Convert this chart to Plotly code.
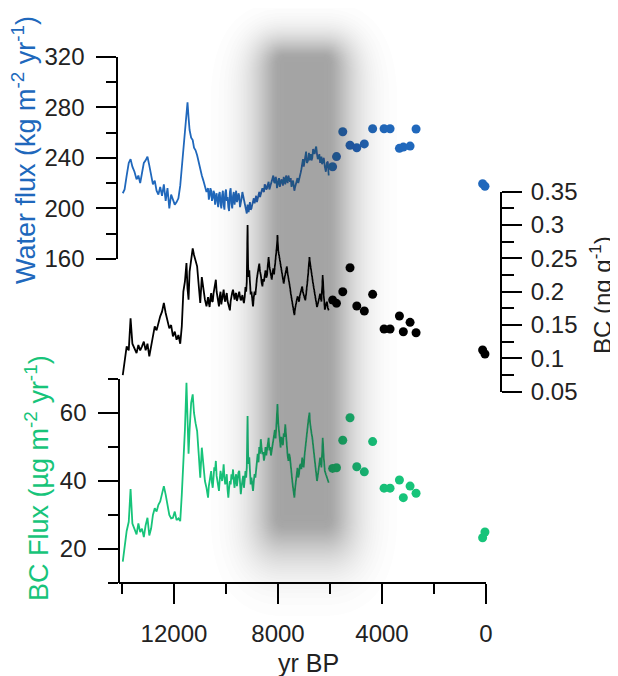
import math
import plotly.graph_objects as go

# ---------------- data ----------------
core_age = [
    13970, 13900, 13820, 13740, 13670, 13600, 13520, 13440, 13370, 13300,
    13230, 13160, 13090, 13020, 12950, 12880, 12810, 12740, 12670, 12600,
    12530, 12460, 12390, 12320, 12250, 12180, 12110, 12040, 11970, 11900,
    11830, 11760, 11700, 11640, 11580, 11520, 11480, 11440, 11400, 11340,
    11280, 11230, 11170, 11110, 11050, 10990, 10930, 10870, 10810, 10750,
    10690, 10660, 10630, 10600, 10570, 10540, 10510, 10480, 10450, 10420,
    10390, 10360, 10330, 10300, 10270, 10240, 10210, 10180, 10150, 10120,
    10090, 10060, 10030, 10000, 9970, 9940, 9910, 9880, 9850, 9820,
    9790, 9760, 9730, 9700, 9670, 9640, 9610, 9580, 9550, 9520,
    9490, 9460, 9430, 9400, 9370, 9340, 9310, 9280, 9250, 9225,
    9200, 9185, 9170, 9150, 9130, 9105, 9080, 9050, 9020, 8990,
    8960, 8930, 8900, 8870, 8840, 8810, 8780, 8750, 8720, 8690,
    8660, 8630, 8600, 8570, 8540, 8510, 8480, 8450, 8420, 8390,
    8360, 8330, 8300, 8270, 8240, 8210, 8180, 8150, 8120, 8090,
    8060, 8040, 8020, 7990, 7960, 7930, 7900, 7870, 7840, 7810,
    7780, 7750, 7720, 7690, 7660, 7630, 7600, 7570, 7540, 7510,
    7480, 7450, 7420, 7395, 7370, 7340, 7310, 7280, 7250, 7220,
    7190, 7160, 7130, 7100, 7070, 7040, 7010, 6980, 6950, 6920,
    6890, 6860, 6830, 6810, 6790, 6765, 6740, 6710, 6680, 6650,
    6620, 6590, 6560, 6530, 6500, 6470, 6440, 6410, 6380, 6355,
    6330, 6305, 6280, 6240, 6200, 6160, 6120, 6085, 6050,
]

water_flux = [
    212, 215, 226, 236, 239, 233, 229, 223, 226, 220,
    228, 236, 238, 241, 234, 226, 219, 222, 214, 211,
    217, 210, 219, 206, 216, 200, 211, 207, 203, 205,
    208, 218, 233, 248, 262, 274, 284, 272, 262, 256,
    254, 248, 246, 242, 236, 230, 226, 222, 218, 213,
    216, 207, 210, 216, 214, 206, 208, 214, 212, 203,
    209, 212, 205, 201, 211, 213, 204, 200, 210, 214,
    203, 199, 212, 215, 206, 209, 201, 198, 213, 216,
    204, 200, 210, 213, 203, 207, 214, 205, 207, 212,
    210, 201, 204, 208, 213, 210, 206, 203, 200, 197,
    196, 199, 203, 201, 197, 202, 205, 199, 200, 203,
    206, 208, 204, 207, 210, 205, 208, 212, 213, 209,
    211, 215, 216, 214, 213, 219, 218, 215, 216, 219,
    221, 215, 217, 220, 223, 224, 226, 221, 220, 225,
    223, 216, 218, 221, 224, 217, 219, 223, 221, 218,
    225, 222, 219, 226, 223, 220, 226, 223, 221, 224,
    217, 220, 222, 218, 214, 217, 219, 222, 224, 220,
    222, 226, 228, 231, 236, 239, 233, 238, 242, 245,
    236, 237, 240, 244, 238, 240, 243, 238, 240, 247,
    245, 243, 247, 249, 243, 239, 240, 243, 236, 238,
    241, 235, 237, 240, 233, 229, 236, 237, 226,
]

bc_conc = [
    0.075, 0.098, 0.118, 0.112, 0.160, 0.122, 0.115, 0.108, 0.120, 0.112,
    0.118, 0.125, 0.112, 0.122, 0.103, 0.118, 0.135, 0.148, 0.142, 0.155,
    0.163, 0.170, 0.183, 0.168, 0.157, 0.145, 0.150, 0.133, 0.140, 0.128,
    0.135, 0.122, 0.148, 0.200, 0.215, 0.243, 0.205, 0.188, 0.230, 0.252,
    0.265, 0.255, 0.245, 0.238, 0.210, 0.183, 0.222, 0.200, 0.188, 0.178,
    0.192, 0.183, 0.177, 0.190, 0.198, 0.186, 0.185, 0.197, 0.205, 0.212,
    0.218, 0.200, 0.190, 0.182, 0.178, 0.193, 0.200, 0.181, 0.188, 0.196,
    0.203, 0.190, 0.185, 0.193, 0.198, 0.186, 0.180, 0.176, 0.172, 0.186,
    0.195, 0.199, 0.203, 0.192, 0.188, 0.196, 0.198, 0.186, 0.192, 0.199,
    0.200, 0.192, 0.187, 0.190, 0.195, 0.188, 0.183, 0.192, 0.207, 0.200,
    0.215, 0.262, 0.300, 0.238, 0.222, 0.232, 0.210, 0.196, 0.200, 0.185,
    0.178, 0.192, 0.200, 0.195, 0.212, 0.220, 0.228, 0.236, 0.242, 0.230,
    0.225, 0.214, 0.208, 0.219, 0.215, 0.224, 0.232, 0.221, 0.225, 0.240,
    0.252, 0.238, 0.232, 0.222, 0.218, 0.228, 0.235, 0.226, 0.243, 0.250,
    0.262, 0.270, 0.285, 0.262, 0.255, 0.246, 0.240, 0.232, 0.228, 0.219,
    0.212, 0.220, 0.225, 0.230, 0.238, 0.228, 0.222, 0.213, 0.207, 0.198,
    0.190, 0.184, 0.178, 0.170, 0.165, 0.175, 0.182, 0.188, 0.193, 0.190,
    0.185, 0.194, 0.200, 0.203, 0.208, 0.199, 0.195, 0.190, 0.187, 0.196,
    0.205, 0.218, 0.232, 0.240, 0.252, 0.243, 0.235, 0.222, 0.218, 0.212,
    0.205, 0.196, 0.190, 0.183, 0.177, 0.181, 0.188, 0.192, 0.197, 0.190,
    0.185, 0.205, 0.225, 0.195, 0.173, 0.180, 0.185, 0.176, 0.172,
]

bc_flux = [
    16.3, 21.0, 25.3, 28.0, 37.6, 27.5, 26.0, 24.3, 27.5, 25.0,
    26.0, 23.5, 27.0, 29.2, 24.0, 26.0, 30.0, 32.0, 31.0, 33.0,
    34.0, 36.0, 38.5, 36.0, 33.0, 30.0, 29.0, 29.2, 31.0, 28.5,
    29.0, 28.2, 36.0, 44.0, 55.0, 68.9, 60.0, 48.0, 55.0, 63.0,
    65.5, 60.0, 57.0, 54.7, 48.0, 41.0, 49.8, 44.0, 40.0, 38.0,
    35.1, 38.5, 40.0, 41.5, 42.9, 39.5, 38.0, 41.0, 44.0, 43.0,
    45.9, 41.5, 40.0, 38.5, 37.1, 40.5, 43.0, 41.5, 40.0, 42.0,
    44.9, 41.0, 39.0, 40.5, 42.0, 37.5, 35.1, 38.0, 40.0, 39.0,
    42.0, 40.5, 43.4, 40.0, 38.0, 41.0, 42.0, 38.5, 41.0, 42.5,
    43.0, 39.5, 36.1, 38.5, 40.0, 41.5, 38.0, 40.5, 42.9, 41.0,
    44.0, 52.0, 59.1, 48.0, 45.0, 47.0, 43.0, 39.0, 41.0, 39.0,
    37.1, 40.0, 42.0, 41.0, 43.9, 46.0, 48.0, 45.5, 50.0, 48.0,
    52.3, 49.5, 47.9, 48.5, 46.0, 47.5, 50.0, 47.5, 49.0, 51.0,
    52.7, 49.0, 50.0, 47.5, 48.8, 51.0, 52.0, 53.5, 55.0, 52.5,
    58.0, 60.0, 62.6, 57.0, 54.0, 51.5, 49.8, 53.0, 52.0, 50.5,
    54.0, 53.0, 56.7, 52.5, 50.0, 47.5, 45.9, 48.0, 47.0, 44.0,
    42.9, 40.0, 38.0, 36.5, 35.1, 38.0, 40.0, 42.5, 43.9, 41.0,
    42.0, 44.5, 45.0, 43.5, 46.9, 45.0, 44.0, 47.5, 50.0, 52.0,
    54.7, 55.5, 58.0, 59.0, 60.1, 57.0, 55.0, 54.0, 52.7, 50.5,
    48.0, 46.5, 44.0, 42.0, 40.0, 41.5, 43.0, 45.0, 46.9, 45.5,
    44.0, 48.0, 52.7, 47.0, 43.0, 42.0, 41.0, 40.5, 39.5,
]

sample_age = [5900, 5750, 5510, 5230, 4970, 4680, 4360, 3920, 3690, 3330, 3180, 2920, 2690]
sample_water = [233, 241, 260.6, 250, 248, 251, 263, 263, 263, 247.5, 248.5, 249.3, 262.8]
sample_bc = [0.1875, 0.1825, 0.200, 0.236, 0.1785, 0.171, 0.196, 0.144, 0.144, 0.1635, 0.140, 0.154, 0.1385]
sample_bcflux = [43.7, 43.9, 52.0, 58.6, 44.2, 42.7, 51.6, 37.9, 37.9, 40.3, 35.1, 38.5, 36.4]

modern_age = [130, 40, -20]
modern_water = [219.5, 217.5, 215.5]
modern_bc = [0.1125, 0.1065, 0.0975]
modern_bcflux = [23.3, 25.0, 21.2]

# shaded interval (yr BP): dark core and faded outer limit
shade_core_yr = [7750, 6250]
shade_outer_yr = [10700, 3300]

assert len(core_age) == len(water_flux) == len(bc_conc) == len(bc_flux)

# ---------------- styling / geometry ----------------
BLUE = "#2068bc"
GREEN = "#17c47a"
BLACK = "#000000"
TXT = "#222222"
FONT = "Arial, Liberation Sans, sans-serif"
PAD = "\u00a0"

PAGE_OFF = 8                      # the page places the figure 8 px in from the corner
W, H = 618 - PAGE_OFF, 676 - PAGE_OFF
P_LEFT, P_RIGHT, P_TOP, P_BOT = 117, 501, 8, 583   # plot area in page pixels
PW, PH = P_RIGHT - P_LEFT, P_BOT - P_TOP
ML = P_LEFT - PAGE_OFF
MT = P_TOP - PAGE_OFF
MR = W - (P_RIGHT - PAGE_OFF)
MB = H - (P_BOT - PAGE_OFF)


def px(page_x):
    return (page_x - P_LEFT) / PW


def py(page_y):
    return (P_BOT - page_y) / PH


x_dom = [px(119), px(486)]
x_rng = [14115, 0]


def xp(yr):
    return x_dom[0] + (x_rng[0] - yr) / (x_rng[0] - x_rng[1]) * (x_dom[1] - x_dom[0])


fig = go.Figure()

line_w = 1.8
fig.add_trace(go.Scatter(x=core_age, y=water_flux, mode="lines",
                         line=dict(color=BLUE, width=line_w), xaxis="x", yaxis="y"))
fig.add_trace(go.Scatter(x=sample_age + modern_age, y=sample_water + modern_water,
                         mode="markers", marker=dict(color=BLUE, size=9),
                         cliponaxis=False, xaxis="x", yaxis="y"))

fig.add_trace(go.Scatter(x=core_age, y=bc_conc, mode="lines",
                         line=dict(color=BLACK, width=line_w), xaxis="x", yaxis="y3"))
fig.add_trace(go.Scatter(x=sample_age + modern_age, y=sample_bc + modern_bc,
                         mode="markers", marker=dict(color=BLACK, size=9),
                         cliponaxis=False, xaxis="x", yaxis="y3"))

fig.add_trace(go.Scatter(x=core_age, y=bc_flux, mode="lines",
                         line=dict(color=GREEN, width=line_w), xaxis="x", yaxis="y2"))
fig.add_trace(go.Scatter(x=sample_age + modern_age, y=sample_bcflux + modern_bcflux,
                         mode="markers", marker=dict(color=GREEN, size=9),
                         cliponaxis=False, xaxis="x", yaxis="y2"))

axis_common = dict(showgrid=False, zeroline=False, showline=True, linecolor="black",
                   linewidth=2, ticks="outside", ticklen=20, tickwidth=2,
                   tickcolor="black", tickfont=dict(size=24, color=TXT, family=FONT))

fig.update_layout(
    width=W, height=H,
    margin=dict(l=ML, r=MR, t=MT, b=MB, autoexpand=False),
    paper_bgcolor="white", plot_bgcolor="rgba(0,0,0,0)",
    showlegend=False,
    font=dict(family=FONT, color=TXT),
    xaxis=dict(domain=x_dom, range=x_rng, anchor="free", position=0,
               dtick=4000, tick0=0, tickformat="d", ticklabelstandoff=9,
               minor=dict(dtick=2000, ticklen=10, tickwidth=2, tickcolor="black", ticks="outside"),
               **axis_common),
    yaxis=dict(domain=[py(259), py(56.7)], range=[160, 320], anchor="free", position=0,
               side="left", dtick=40, tick0=0, ticksuffix=PAD,
               minor=dict(dtick=20, ticklen=10, tickwidth=2, tickcolor="black", ticks="outside"),
               **axis_common),
    yaxis2=dict(domain=[py(583), py(379)], range=[10, 70], anchor="free", position=px(119),
                side="left", dtick=20, tick0=0, ticksuffix=PAD,
                minor=dict(dtick=10, ticklen=10, tickwidth=2, tickcolor="black", ticks="outside"),
                **axis_common),
    yaxis3=dict(domain=[py(391.7), py(191.7)], range=[0.05, 0.35], anchor="free", position=1,
                side="right", dtick=0.05, tick0=0.05, tickformat=".2~f", ticklabelstandoff=4,
                minor=dict(dtick=0.025, ticklen=12, tickwidth=2, tickcolor="black", ticks="outside"),
                **axis_common),
)

# titles
fig.add_annotation(text="Water flux (kg m<sup>-2</sup> yr<sup>-1</sup>)", textangle=-90,
                   xref="paper", yref="paper", x=px(24), y=py(150),
                   xanchor="center", yanchor="middle", showarrow=False,
                   font=dict(size=27, color=BLUE, family=FONT))
fig.add_annotation(text="BC Flux (\u00b5g m<sup>-2</sup> yr<sup>-1</sup>)", textangle=-90,
                   xref="paper", yref="paper", x=px(37), y=py(478),
                   xanchor="center", yanchor="middle", showarrow=False,
                   font=dict(size=27, color=GREEN, family=FONT))
fig.add_annotation(text="BC (ng g<sup>-1</sup>)", textangle=-90,
                   xref="paper", yref="paper", x=px(601), y=py(295),
                   xanchor="center", yanchor="middle", showarrow=False,
                   font=dict(size=24, color=TXT, family=FONT))
fig.add_annotation(text="yr BP", xref="paper", yref="paper",
                   x=px(308), y=py(663),
                   xanchor="center", yanchor="middle", showarrow=False,
                   font=dict(size=25, color=TXT, family=FONT))

# blurred shaded interval: stacked translucent rounded rectangles, gaussian-like falloff
N = 48
EFF = 2
max_cover = 0.7
FALL = 1.9
alpha = 1 - (1 - max_cover) ** (1 / (N * EFF))
core_y = [py(515), py(62)]
outer_y = [py(620), py(0)]
for k in range(1, N + 1):
    level = min(1.0, (1 - (1 - alpha) ** (k * EFF)) / max_cover)
    u = min(1.0, math.sqrt(max(0.0, -math.log(level))) / FALL)
    x0 = xp(shade_core_yr[0] + (shade_outer_yr[0] - shade_core_yr[0]) * u)
    x1 = xp(shade_core_yr[1] + (shade_outer_yr[1] - shade_core_yr[1]) * u)
    y0 = core_y[0] + (outer_y[0] - core_y[0]) * u
    y1 = core_y[1] + (outer_y[1] - core_y[1]) * u
    rx = max(abs(x0 - xp(shade_core_yr[0])), 1e-4)
    ry = max(abs(y0 - core_y[0]), 1e-4)
    rx = min(rx, (x1 - x0) / 2)
    ry = min(ry, (y1 - y0) / 2)
    path = (f"M {x0 + rx},{y0} L {x1 - rx},{y0} Q {x1},{y0} {x1},{y0 + ry} "
            f"L {x1},{y1 - ry} Q {x1},{y1} {x1 - rx},{y1} L {x0 + rx},{y1} "
            f"Q {x0},{y1} {x0},{y1 - ry} L {x0},{y0 + ry} Q {x0},{y0} {x0 + rx},{y0} Z")
    fig.add_shape(type="path", xref="paper", yref="paper", path=path,
                  line=dict(width=0), fillcolor=f"rgba(100,88,86,{alpha:.4f})",
                  layer="above")

fig.write_html("out.html")
